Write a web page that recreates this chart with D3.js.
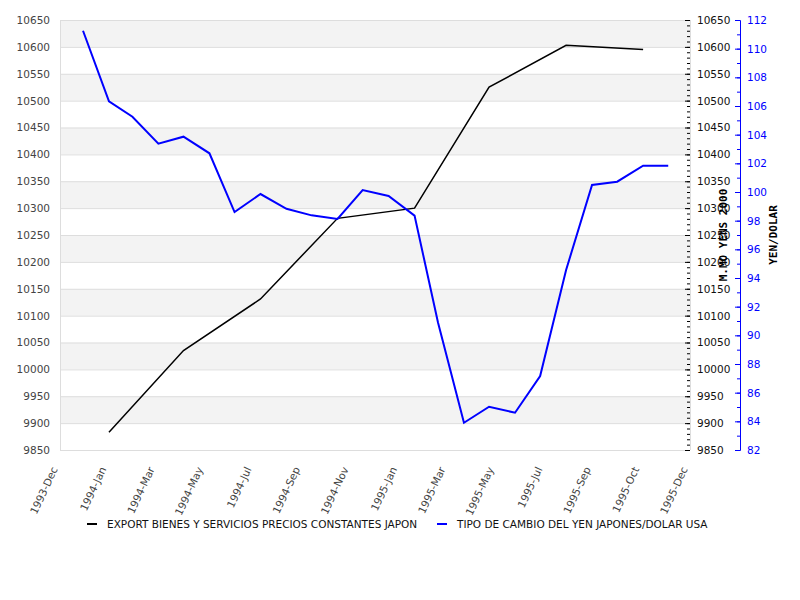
<!DOCTYPE html>
<html><head><meta charset="utf-8">
<script src="https://cdn.jsdelivr.net/npm/d3@7"></script>
<style>body{margin:0;background:#fff}svg{display:block}text{font-family:"DejaVu Sans",sans-serif}</style>
</head><body><svg id="c" width="800" height="600"></svg>
<script>
const yenMonths = ["1994-01","1994-02","1994-03","1994-04","1994-05","1994-06","1994-07","1994-08","1994-09","1994-10","1994-11","1994-12",
  "1995-01","1995-02","1995-03","1995-04","1995-05","1995-06","1995-07","1995-08","1995-09","1995-10","1995-11","1995-12"];
const yenValues = [111.25,106.33,105.25,103.37,103.86,102.70,98.60,99.86,98.83,98.37,98.12,100.14,
  99.72,98.35,90.9,83.9,85.02,84.6,87.16,94.56,100.49,100.72,101.84,101.84];
const exportMonths = ["1994-02","1994-05","1994-08","1994-11","1995-02","1995-05","1995-08","1995-11"];
const exportValues = [9883,10035,10131,10281,10300,10525,10603,10595];
const tickLabels = ["1993-Dec","1994-Jan","1994-Mar","1994-May","1994-Jul","1994-Sep","1994-Nov","1995-Jan","1995-Mar","1995-May","1995-Jul","1995-Sep","1995-Oct","1995-Dec"];
const seriesNames = ["EXPORT BIENES Y SERVICIOS PRECIOS CONSTANTES JAPON","TIPO DE CAMBIO DEL YEN JAPONES/DOLAR USA"];
const leftTitle = "M.MO YENS 2000";
const rightTitle = "YEN/DOLAR";
const leftDomain = [9850,10650];
const rightDomain = [82,112];

const parse = d3.timeParse("%Y-%m");
const fmt = d3.format("d");
const svg = d3.select("#c");
const L=60,R=690,T=20,B=450;
const x = d3.scaleTime().domain([new Date(1993,11,4,12), new Date(1995,11,27)]).range([L,R]);
const xt = d3.scalePoint().domain(tickLabels).range([L,R]);
const yL = d3.scaleLinear().domain(leftDomain).range([B,T]);
const yR = d3.scaleLinear().domain(rightDomain).range([B,T]);

// bands
const majors = d3.range(leftDomain[0], leftDomain[1]+1, 50);
svg.append("g").selectAll("rect").data(majors.slice(0,-1)).join("rect")
  .attr("x",L).attr("width",R-L)
  .attr("y",d=>yL(d+50)).attr("height",d=>yL(d)-yL(d+50))
  .attr("fill",(d,i)=> (i%2===1)?"#f3f3f3":"#ffffff");
svg.append("g").selectAll("line").data(majors).join("line")
  .attr("x1",L).attr("x2",R).attr("y1",d=>yL(d)+0.5).attr("y2",d=>yL(d)+0.5)
  .attr("stroke","#dddddd");
svg.append("line").attr("x1",L+0.5).attr("x2",L+0.5).attr("y1",T).attr("y2",B).attr("stroke","#dddddd");
svg.append("line").attr("x1",R+0.5).attr("x2",R+0.5).attr("y1",T).attr("y2",B).attr("stroke","#dddddd");

// left labels
const gl = svg.append("g").attr("transform",`translate(${L},0)`)
  .call(d3.axisLeft(yL).tickValues(majors).tickFormat(fmt).tickSize(0).tickPadding(10));
gl.select(".domain").remove();
gl.selectAll("text").attr("fill","#444").style("font-size","10.5px").style("font-family","DejaVu Sans");

// right black axis
const gr = svg.append("g").attr("transform",`translate(${R},0)`)
  .call(d3.axisRight(yL).tickValues(majors).tickFormat(fmt).tickSizeInner(-5).tickSizeOuter(0).tickPadding(7));
gr.select(".domain").remove();
gr.selectAll("line").attr("stroke","#000");
gr.selectAll("text").attr("fill","#111").style("font-size","10.5px").style("font-family","DejaVu Sans");
const grm = svg.append("g").attr("transform",`translate(${R},0)`)
  .call(d3.axisRight(yL).tickValues(d3.range(leftDomain[0],leftDomain[1]+1,10)).tickSizeInner(-3).tickSizeOuter(0).tickFormat(""));
grm.select(".domain").remove();
grm.selectAll("line").attr("stroke","#000");

// right blue axis
const BX=740;
const gb = svg.append("g").attr("transform",`translate(${BX},0)`)
  .call(d3.axisRight(yR).tickValues(d3.range(rightDomain[0],rightDomain[1]+1,2)).tickFormat(fmt).tickSizeInner(-5).tickSizeOuter(0).tickPadding(7));
gb.select(".domain").attr("stroke","#0000ff");
gb.selectAll("line").attr("stroke","#0000ff");
gb.selectAll("text").attr("fill","#0000ff").style("font-size","10.5px").style("font-family","DejaVu Sans");
const gbm = svg.append("g").attr("transform",`translate(${BX},0)`)
  .call(d3.axisRight(yR).tickValues(d3.range(rightDomain[0],rightDomain[1]+1,1)).tickSizeInner(-3).tickSizeOuter(0).tickFormat(""));
gbm.select(".domain").attr("stroke","#0000ff");
gbm.selectAll("line").attr("stroke","#0000ff");

// x labels
svg.append("g").selectAll("text").data(tickLabels).join("text")
  .attr("transform",d=>`translate(${xt(d)-2},${B+19}) rotate(-65)`)
  .attr("text-anchor","end").attr("fill","#444").style("font-size","10.5px").text(d=>d);

// lines
const yenData = yenMonths.map((m,i)=>({d:parse(m),v:yenValues[i]}));
const expData = exportMonths.map((m,i)=>({d:parse(m),v:exportValues[i]}));
svg.append("path").datum(expData).attr("fill","none").attr("stroke","#000").attr("stroke-width",1.5)
  .attr("d",d3.line().x(p=>x(p.d)).y(p=>yL(p.v)));
svg.append("path").datum(yenData).attr("fill","none").attr("stroke","#0000ff").attr("stroke-width",2)
  .attr("d",d3.line().x(p=>x(p.d)).y(p=>yR(p.v)));

// axis titles
svg.append("text").attr("transform",`translate(723,${(T+B)/2}) rotate(-90)`)
  .attr("text-anchor","middle").attr("dominant-baseline","central")
  .style("font-family","DejaVu Sans Mono").style("font-weight","bold").style("font-size","11px").attr("fill","#000").text(leftTitle);
svg.append("text").attr("transform",`translate(773,${(T+B)/2}) rotate(-90)`)
  .attr("text-anchor","middle").attr("dominant-baseline","central")
  .style("font-family","DejaVu Sans Mono").style("font-weight","bold").style("font-size","11px").attr("fill","#000").text(rightTitle);

// legend
const legX = [87,437], legC = ["#000","#0000ff"];
const lg = svg.append("g").selectAll("g").data(seriesNames).join("g")
  .attr("transform",(d,i)=>`translate(${legX[i]},524)`);
lg.append("line").attr("x1",0).attr("x2",10).attr("y1",0).attr("y2",0).attr("stroke",(d,i)=>legC[i]).attr("stroke-width",2);
lg.append("text").attr("x",20).attr("dy","0.35em").style("font-size","10.5px").attr("fill","#111").text(d=>d);
</script></body></html>
